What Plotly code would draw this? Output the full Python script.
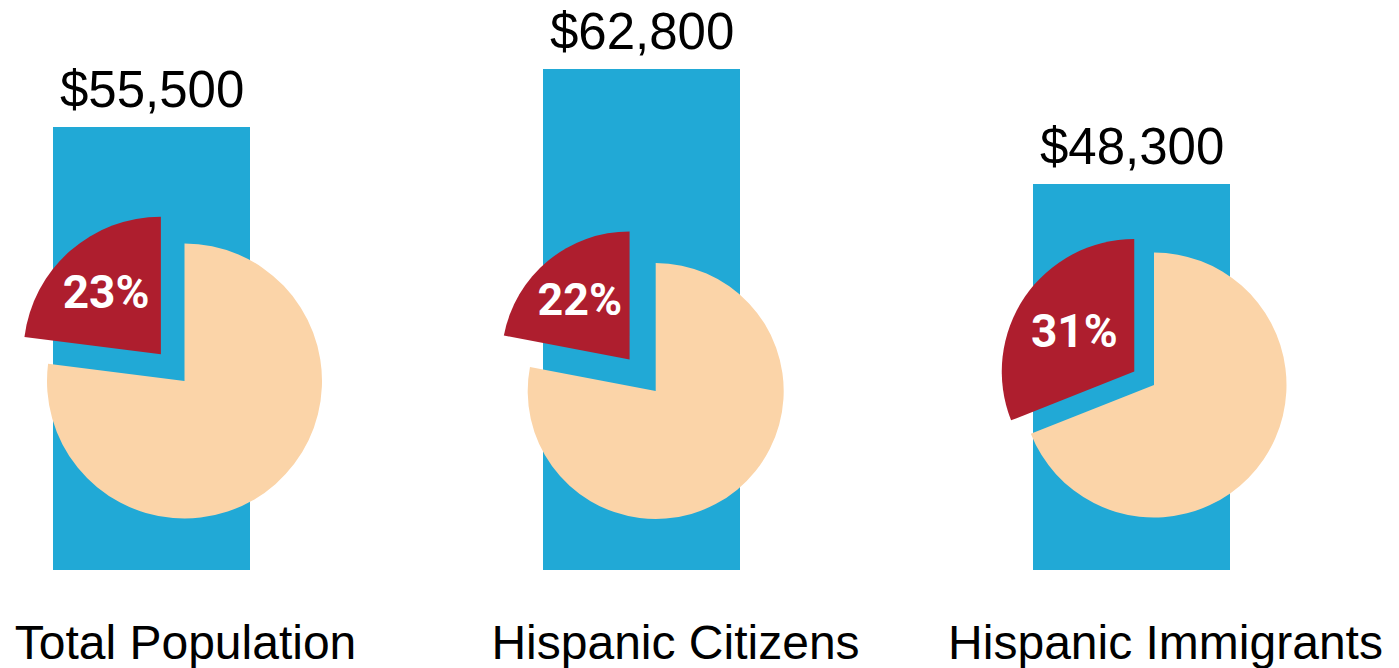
import plotly.graph_objects as go

# ---- data ----
categories = ["Total Population", "Hispanic Citizens", "Hispanic Immigrants"]
median_income = [55500, 62800, 48300]
value_labels = ["$55,500", "$62,800", "$48,300"]
share_pct = [23, 22, 31]

# ---- styling / layout constants ----
W, H = 1399, 668
M_B = 98
PLOT_H = H - M_B
BLUE = "#21A9D6"
RED = "#AE1E2E"
BEIGE = "#FBD4A8"
BAR_WIDTH = 0.403
BAR_OFFSET = -0.2704

PIE_CENTERS_PX = [(184.5, 381), (655.7, 391), (1154, 385)]
PIE_RADII_PX = [137.5, 128, 132.5]
PIE_PULL = [0.26, 0.32, 0.18]

x_pos = list(range(len(categories)))

fig = go.Figure()
fig.add_bar(
    x=x_pos, y=median_income, width=BAR_WIDTH, offset=BAR_OFFSET,
    marker=dict(color=BLUE, line=dict(width=0)),
    showlegend=False, hoverinfo="skip",
)

for xp, v, t in zip(x_pos, median_income, value_labels):
    fig.add_annotation(
        x=xp + BAR_OFFSET + BAR_WIDTH / 2, y=v, xref="x", yref="y",
        text=t, showarrow=False, yanchor="bottom", yshift=8, borderpad=0,
        font=dict(family="Arial, Liberation Sans, sans-serif", size=51, color="black"),
    )

for s, (cx, cy), r, p in zip(share_pct, PIE_CENTERS_PX, PIE_RADII_PX, PIE_PULL):
    half = r * (1 + p)
    dom_x = [(cx - half) / W, (cx + half) / W]
    dom_y = [1 - (cy + half) / PLOT_H, 1 - (cy - half) / PLOT_H]
    fig.add_pie(
        values=[100 - s, s], sort=False, direction="clockwise", rotation=0,
        pull=[0, p],
        marker=dict(colors=[BEIGE, RED], line=dict(width=0)),
        texttemplate=["", "%{percent:.0%}"], textposition="inside",
        insidetextorientation="horizontal",
        textfont=dict(family="Liberation Sans Narrow, Arial Narrow, Roboto, Arial, sans-serif",
                      size=46, color="white", weight="bold"),
        domain=dict(x=dom_x, y=dom_y),
        showlegend=False, hoverinfo="skip",
    )

fig.update_layout(
    width=W, height=H,
    margin=dict(l=0, r=0, t=0, b=M_B, autoexpand=False),
    paper_bgcolor="white", plot_bgcolor="white",
    bargap=0,
    xaxis=dict(
        range=[-0.3786, 2.4765], tickvals=x_pos, ticktext=categories,
        showgrid=False, zeroline=False, showline=False, automargin=False,
        ticks="outside", ticklen=30, tickcolor="rgba(0,0,0,0)",
        tickfont=dict(family="Arial, Liberation Sans, sans-serif", size=48, color="black"),
        fixedrange=True,
    ),
    yaxis=dict(range=[0, 71400], visible=False, fixedrange=True, automargin=False),
)

fig.write_html(
    "out.html",
    config={"displayModeBar": False},
    post_script="document.body.style.margin='0';document.body.style.overflow='hidden';",
)
